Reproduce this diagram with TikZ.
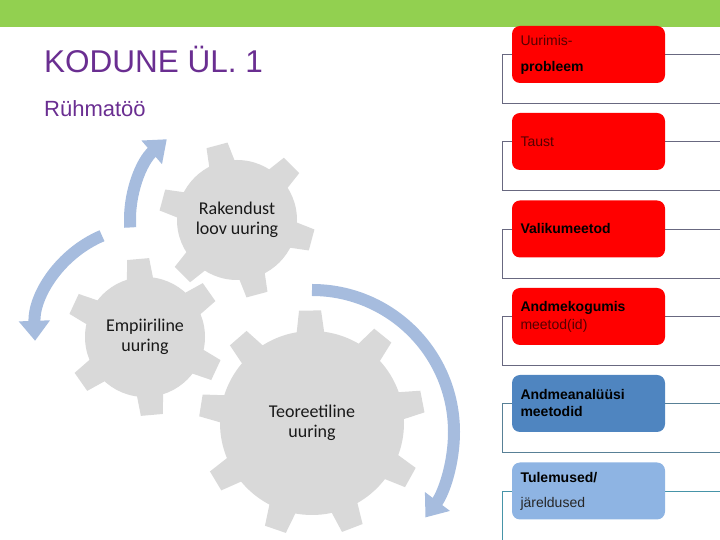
\documentclass[tikz,border=0pt]{standalone}
\usepackage{fontspec}
\setmainfont{Liberation Sans}
\newfontfamily\gearfont{Carlito}
\usetikzlibrary{arrows.meta}
\definecolor{topgreen}{RGB}{146,208,80}
\definecolor{titlepurple}{RGB}{106,46,145}
\definecolor{gearfill}{RGB}{217,217,217}
\definecolor{arrowblue}{RGB}{166,188,222}
\definecolor{boxred}{RGB}{255,0,0}
\definecolor{boxblue}{RGB}{79,133,192}
\definecolor{boxlight}{RGB}{142,180,227}
\definecolor{textmaroon}{RGB}{85,0,0}
\definecolor{linegray}{RGB}{104,104,128}
\definecolor{lineblue}{RGB}{88,128,150}
\definecolor{lineteal}{RGB}{70,148,168}
\tikzset{
  stagebox/.style={rounded corners=8pt, minimum height=57pt, text width=136pt,
    inner xsep=8.5pt, align=left, font=\fontsize{14}{16}\selectfont},
  geartext/.style={align=center, font=\gearfont\fontsize{18}{20}\selectfont, text=black!90},
  arrowband/.style={draw=arrowblue, line width=12pt, -{Triangle[length=20pt,width=30pt]}},
  bracket/.style={line width=0.8pt}
}
% gear: center, inner r, outer r, teeth, first angle, base half-angle, top half-angle
\newcommand{\gearat}[7]{%
  \fill[gearfill] (#1) circle (#2);
  \foreach \k in {1,...,#4}{
    \pgfmathsetmacro\ang{#5+360/#4*(\k-1)}
    \fill[gearfill] ([shift={(\ang-#6:#2-4)}]#1) -- ([shift={(\ang-#7:#3)}]#1)
      -- ([shift={(\ang+#7:#3)}]#1) -- ([shift={(\ang+#6:#2-4)}]#1) -- cycle;
  }
}
\begin{document}
\begin{tikzpicture}[x=1pt,y=1pt]
\useasboundingbox (0,0) rectangle (720,540);
\clip (0,0) rectangle (720,540);
\fill[topgreen] (0,513) rectangle (720,540);

\node[anchor=base west, inner sep=0, text=titlepurple, font=\fontsize{31.5}{36}\selectfont] (title) at (44,467) {KODUNE ÜL. 1};
\node[anchor=base west, inner sep=0, text=titlepurple, font=\fontsize{22}{26}\selectfont] (subtitle) at (44,423) {Rühmatöö};

% gears
\coordinate (g1) at (237,320);
\coordinate (g2) at (145,203);
\coordinate (g3) at (312,117);
\coordinate (arcC) at (312,108);
\gearat{g1}{60}{78}{6}{105}{14}{8}
\gearat{g2}{60}{79}{6}{95}{14}{8}
\gearat{g3}{92}{113}{9}{91}{9.3}{5.6}
\node[geartext] (rakendus) at (g1) {Rakendust\\loov uuring};
\node[geartext] (empiiria) at (g2) {Empiiriline\\uuring};
\node[geartext] (teooria) at (g3) {Teoreetiline\\uuring};

% arrows round the gears
\draw[arrowband] ([shift={(184:107)}]g1) arc[start angle=184, end angle=131, radius=107];
\draw[arrowband] ([shift={(113:110)}]g2) arc[start angle=113, end angle=182, radius=110];
\draw[arrowband] ([shift={(90:142)}]arcC) arc[start angle=90, end angle=-37, radius=142];

% brackets behind the boxes
\foreach \y/\c in {485.5/linegray, 398.5/linegray, 311/linegray, 223.5/linegray, 136.5/lineblue, 49/lineteal}
  \draw[bracket, draw=\c] (502,\y) rectangle (730,\y-49);

% boxes
\node[stagebox, fill=boxred] (uurimis) at (588.5,485.5)
  {\textcolor{textmaroon}{Uurimis-}\\[10pt]\textbf{probleem}};
\node[stagebox, fill=boxred] (taust) at (588.5,398.5)
  {\textcolor{textmaroon}{Taust}};
\node[stagebox, fill=boxred] (valik) at (588.5,311)
  {\textbf{Valikumeetod}};
\node[stagebox, fill=boxred] (kogumis) at (588.5,223.5)
  {\textbf{Andmekogumis}\\[2pt]\textcolor{textmaroon}{meetod(id)}};
\node[stagebox, fill=boxblue] (analyys) at (588.5,136.5)
  {\textbf{Andmeanalüüsi}\\[1pt]\textbf{meetodid}};
\node[stagebox, fill=boxlight] (tulemused) at (588.5,49)
  {\textbf{Tulemused/}\\[9pt]\textcolor{black!85}{järeldused}};
\end{tikzpicture}
\end{document}
